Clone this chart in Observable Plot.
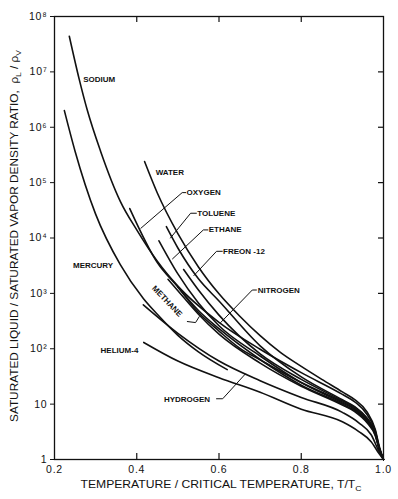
<!DOCTYPE html>
<html><head><meta charset="utf-8">
<script src="https://cdn.jsdelivr.net/npm/d3@7"></script>
<script src="https://cdn.jsdelivr.net/npm/@observablehq/plot@0.6"></script>
<style>body{margin:0;background:#fff}svg{display:block}</style>
</head><body><div id="chart"></div>
<script>
// ---- data (T/Tc, density ratio) ----
const sodiumT   = [0.236, 0.26, 0.28, 0.312, 0.36, 0.40, 0.45, 0.50, 0.60, 0.70, 0.80, 0.90, 0.93, 0.96, 0.98, 0.99, 1.00];
const sodiumR   = [4.4e7, 7.4e6, 2.0e6, 3.7e5, 4.6e4, 1.4e4, 3800, 1350, 300, 98, 37, 15, 11, 6.5, 3.3, 1.6, 1];
const mercuryT  = [0.224, 0.25, 0.30, 0.36, 0.416, 0.45, 0.50, 0.55, 0.62];
const mercuryR  = [2.0e6, 3.7e5, 2.7e4, 3300, 810, 420, 175, 88, 42];
const waterT    = [0.419, 0.45, 0.50, 0.55, 0.60, 0.65, 0.70, 0.75, 0.80, 0.85, 0.90, 0.93, 0.96, 0.98, 0.99, 1.00];
const waterR    = [2.4e5, 6.5e4, 1.2e4, 3000, 980, 390, 172, 85, 48, 28, 16.6, 12, 7.2, 3.5, 1.7, 1];
const oxygenT   = [0.383, 0.45, 0.50, 0.55, 0.60, 0.65, 0.70, 0.80, 0.90, 0.93, 0.96, 0.98, 0.99, 1.00];
const oxygenR   = [3.4e4, 3600, 1300, 450, 209, 103, 63, 24.5, 11, 8.3, 5.2, 3.0, 1.55, 1];
const tolueneT  = [0.472, 0.50, 0.55, 0.60, 0.70, 0.80, 0.90, 0.93, 0.96, 0.98, 0.99, 1.00];
const tolueneR  = [1.6e4, 6600, 1830, 730, 113, 31, 12, 9, 5.6, 3.1, 1.6, 1];
const ethaneT   = [0.454, 0.50, 0.55, 0.60, 0.70, 0.80, 0.90, 0.93, 0.96, 0.98, 0.99, 1.00];
const ethaneR   = [8900, 2250, 670, 260, 74, 24.5, 10.5, 8.0, 5.0, 2.9, 1.55, 1];
const freonT    = [0.514, 0.55, 0.60, 0.70, 0.80, 0.90, 0.93, 0.96, 0.98, 0.99, 1.00];
const freonR    = [2700, 1150, 405, 81, 28, 11.5, 8.7, 5.4, 3.0, 1.55, 1];
const nitrogenT = [0.50, 0.55, 0.60, 0.70, 0.80, 0.90, 0.93, 0.96, 0.98, 0.99, 1.00];
const nitrogenR = [1300, 490, 230, 64, 22, 10, 7.6, 4.8, 2.8, 1.5, 1];
const methaneT  = [0.476, 0.50, 0.55, 0.60, 0.70, 0.80, 0.90, 0.93, 0.96, 0.98, 0.99, 1.00];
const methaneR  = [1800, 1120, 420, 183, 55, 21, 9.6, 7.3, 4.6, 2.7, 1.5, 1];
const heliumT   = [0.417, 0.50, 0.60, 0.70, 0.80, 0.90, 0.94, 0.97, 0.99, 1.00];
const heliumR   = [130, 60, 30, 16.4, 8.1, 4.8, 3.2, 2.1, 1.25, 1];
const hydrogenT = [0.416, 0.50, 0.60, 0.70, 0.80, 0.90, 0.94, 0.97, 0.99, 1.00];
const hydrogenR = [620, 190, 60, 26.5, 13.2, 7.1, 4.6, 2.8, 1.35, 1];

// curve labels
const labelText = ["SODIUM", "WATER", "OXYGEN", "TOLUENE", "ETHANE", "FREON -12", "NITROGEN", "MERCURY", "HELIUM-4", "HYDROGEN"];
const labelT    = [0.270, 0.446, 0.521, 0.547, 0.575, 0.610, 0.694, 0.245, 0.312, 0.466];
const labelR    = [7.3e6, 1.5e5, 6.6e4, 2.8e4, 1.4e4, 5750, 1150, 3200, 93, 12.1];
const methaneLabel = {text: "METHANE", t: 0.474, r: 720, angle: 46};

// leader lines
const leaderId = ["O","O","O", "T","T","T", "E","E","E", "F","F","F", "N","N","N", "M","M","M", "H","H","H"];
const leaderT  = [0.519,0.5105,0.410, 0.545,0.531,0.482, 0.573,0.562,0.487, 0.608,0.594,0.539, 0.691,0.681,0.604, 0.523,0.543,0.552, 0.594,0.609,0.664];
const leaderR  = [6.6e4,6.6e4,1.5e4, 2.8e4,2.8e4,1.0e4, 1.4e4,1.4e4,4200, 5750,5750,2100, 1150,1150,297, 310,297,380, 12.5,12.5,35];

// axes
const yTicks = [1, 10, 1e2, 1e3, 1e4, 1e5, 1e6, 1e7, 1e8];
const yTickLabels = ["1", "10", "10²", "10³", "10⁴", "10⁵", "10⁶", "10⁷", "10⁸"];
const xTicks = [0.2, 0.4, 0.6, 0.8, 1.0];
const xTickLabels = ["0.2", "0.4", "0.6", "0.8", "1.0"];

const series = [
  ["Sodium", sodiumT, sodiumR], ["Mercury", mercuryT, mercuryR], ["Water", waterT, waterR],
  ["Oxygen", oxygenT, oxygenR], ["Toluene", tolueneT, tolueneR], ["Ethane", ethaneT, ethaneR],
  ["Freon-12", freonT, freonR], ["Nitrogen", nitrogenT, nitrogenR], ["Methane", methaneT, methaneR],
  ["Helium-4", heliumT, heliumR], ["Hydrogen", hydrogenT, hydrogenR]
];
const rows = series.flatMap(([name, T, R]) => T.map((t, i) => ({name, t, r: R[i]})));
const labels = labelText.map((text, i) => ({text, t: labelT[i], r: labelR[i]}));
const leaders = leaderId.map((id, i) => ({id, t: leaderT[i], r: leaderR[i]}));

const W = 398, H = 499, mL = 54, mR = 15, mT = 16, mB = 40;
const pw = W - mL - mR, ph = H - mT - mB;
const font = "'Liberation Sans', Arial, sans-serif";

const chart = Plot.plot({
  width: W, height: H,
  marginLeft: mL, marginRight: mR, marginTop: mT, marginBottom: mB,
  style: {fontFamily: font, background: "#fff", color: "#111"},
  x: {domain: [0.2, 1.0]},
  y: {type: "log", domain: [1, 1e8]},
  marks: [
    Plot.frame({stroke: "#111", strokeWidth: 1.3}),
    Plot.axisX({ticks: xTicks, tickSize: 0, tickPadding: 6, tickFormat: (d) => xTickLabels[xTicks.indexOf(d)] ?? "", fontSize: 10.5, label: null}),
    Plot.axisY({ticks: yTicks, tickSize: 4, tickPadding: 3, tickFormat: (d) => yTickLabels[yTicks.indexOf(d)] ?? "", fontSize: 10.5, label: null}),
    Plot.ruleX(xTicks.slice(1, -1), {insetTop: ph - 6, stroke: "#111", strokeWidth: 1.2}),
    Plot.ruleX(xTicks.slice(1, -1), {insetBottom: ph - 6, stroke: "#111", strokeWidth: 1.2}),
    Plot.ruleY(yTicks.slice(1, -1), {insetLeft: pw - 5, stroke: "#111", strokeWidth: 1.2}),
    Plot.line(rows, {x: "t", y: "r", z: "name", curve: "monotone-x", stroke: "#111", strokeWidth: 1.6}),
    Plot.line(leaders, {x: "t", y: "r", z: "id", stroke: "#111", strokeWidth: 1}),
    Plot.text(labels, {x: "t", y: "r", text: "text", textAnchor: "start", fontSize: 8, fontWeight: "bold", fill: "#111"}),
    Plot.text([methaneLabel], {x: "t", y: "r", text: "text", rotate: methaneLabel.angle, fontSize: 8, fontWeight: "bold", fill: "#111"})
  ]
});

const svg = d3.select(chart);
svg.selectAll("[aria-label='x-axis tick label'] text, [aria-label='y-axis tick label'] text").style("letter-spacing", "0.8px");
// x axis title
const xt = svg.append("text").attr("x", 221).attr("y", 488).attr("text-anchor", "middle")
  .attr("font-family", font).attr("font-size", 10.5).attr("fill", "#111")
  .attr("textLength", 281).attr("lengthAdjust", "spacingAndGlyphs");
xt.append("tspan").text("TEMPERATURE / CRITICAL TEMPERATURE, T/T");
xt.append("tspan").attr("font-size", 7.5).attr("dy", 3).text("C");
// y axis title
const yt = svg.append("text").attr("transform", "translate(18,236) rotate(-90)").attr("text-anchor", "middle")
  .attr("font-family", font).attr("font-size", 10.5).attr("fill", "#111")
  .attr("textLength", 372).attr("lengthAdjust", "spacingAndGlyphs");
yt.append("tspan").text("SATURATED LIQUID / SATURATED VAPOR DENSITY RATIO,  ρ");
yt.append("tspan").attr("font-size", 7.5).attr("dy", 3).text("L");
yt.append("tspan").attr("dy", -3).text(" / ρ");
yt.append("tspan").attr("font-size", 7.5).attr("dy", 3).text("V");

document.getElementById("chart").appendChild(chart);
</script>
</body></html>
